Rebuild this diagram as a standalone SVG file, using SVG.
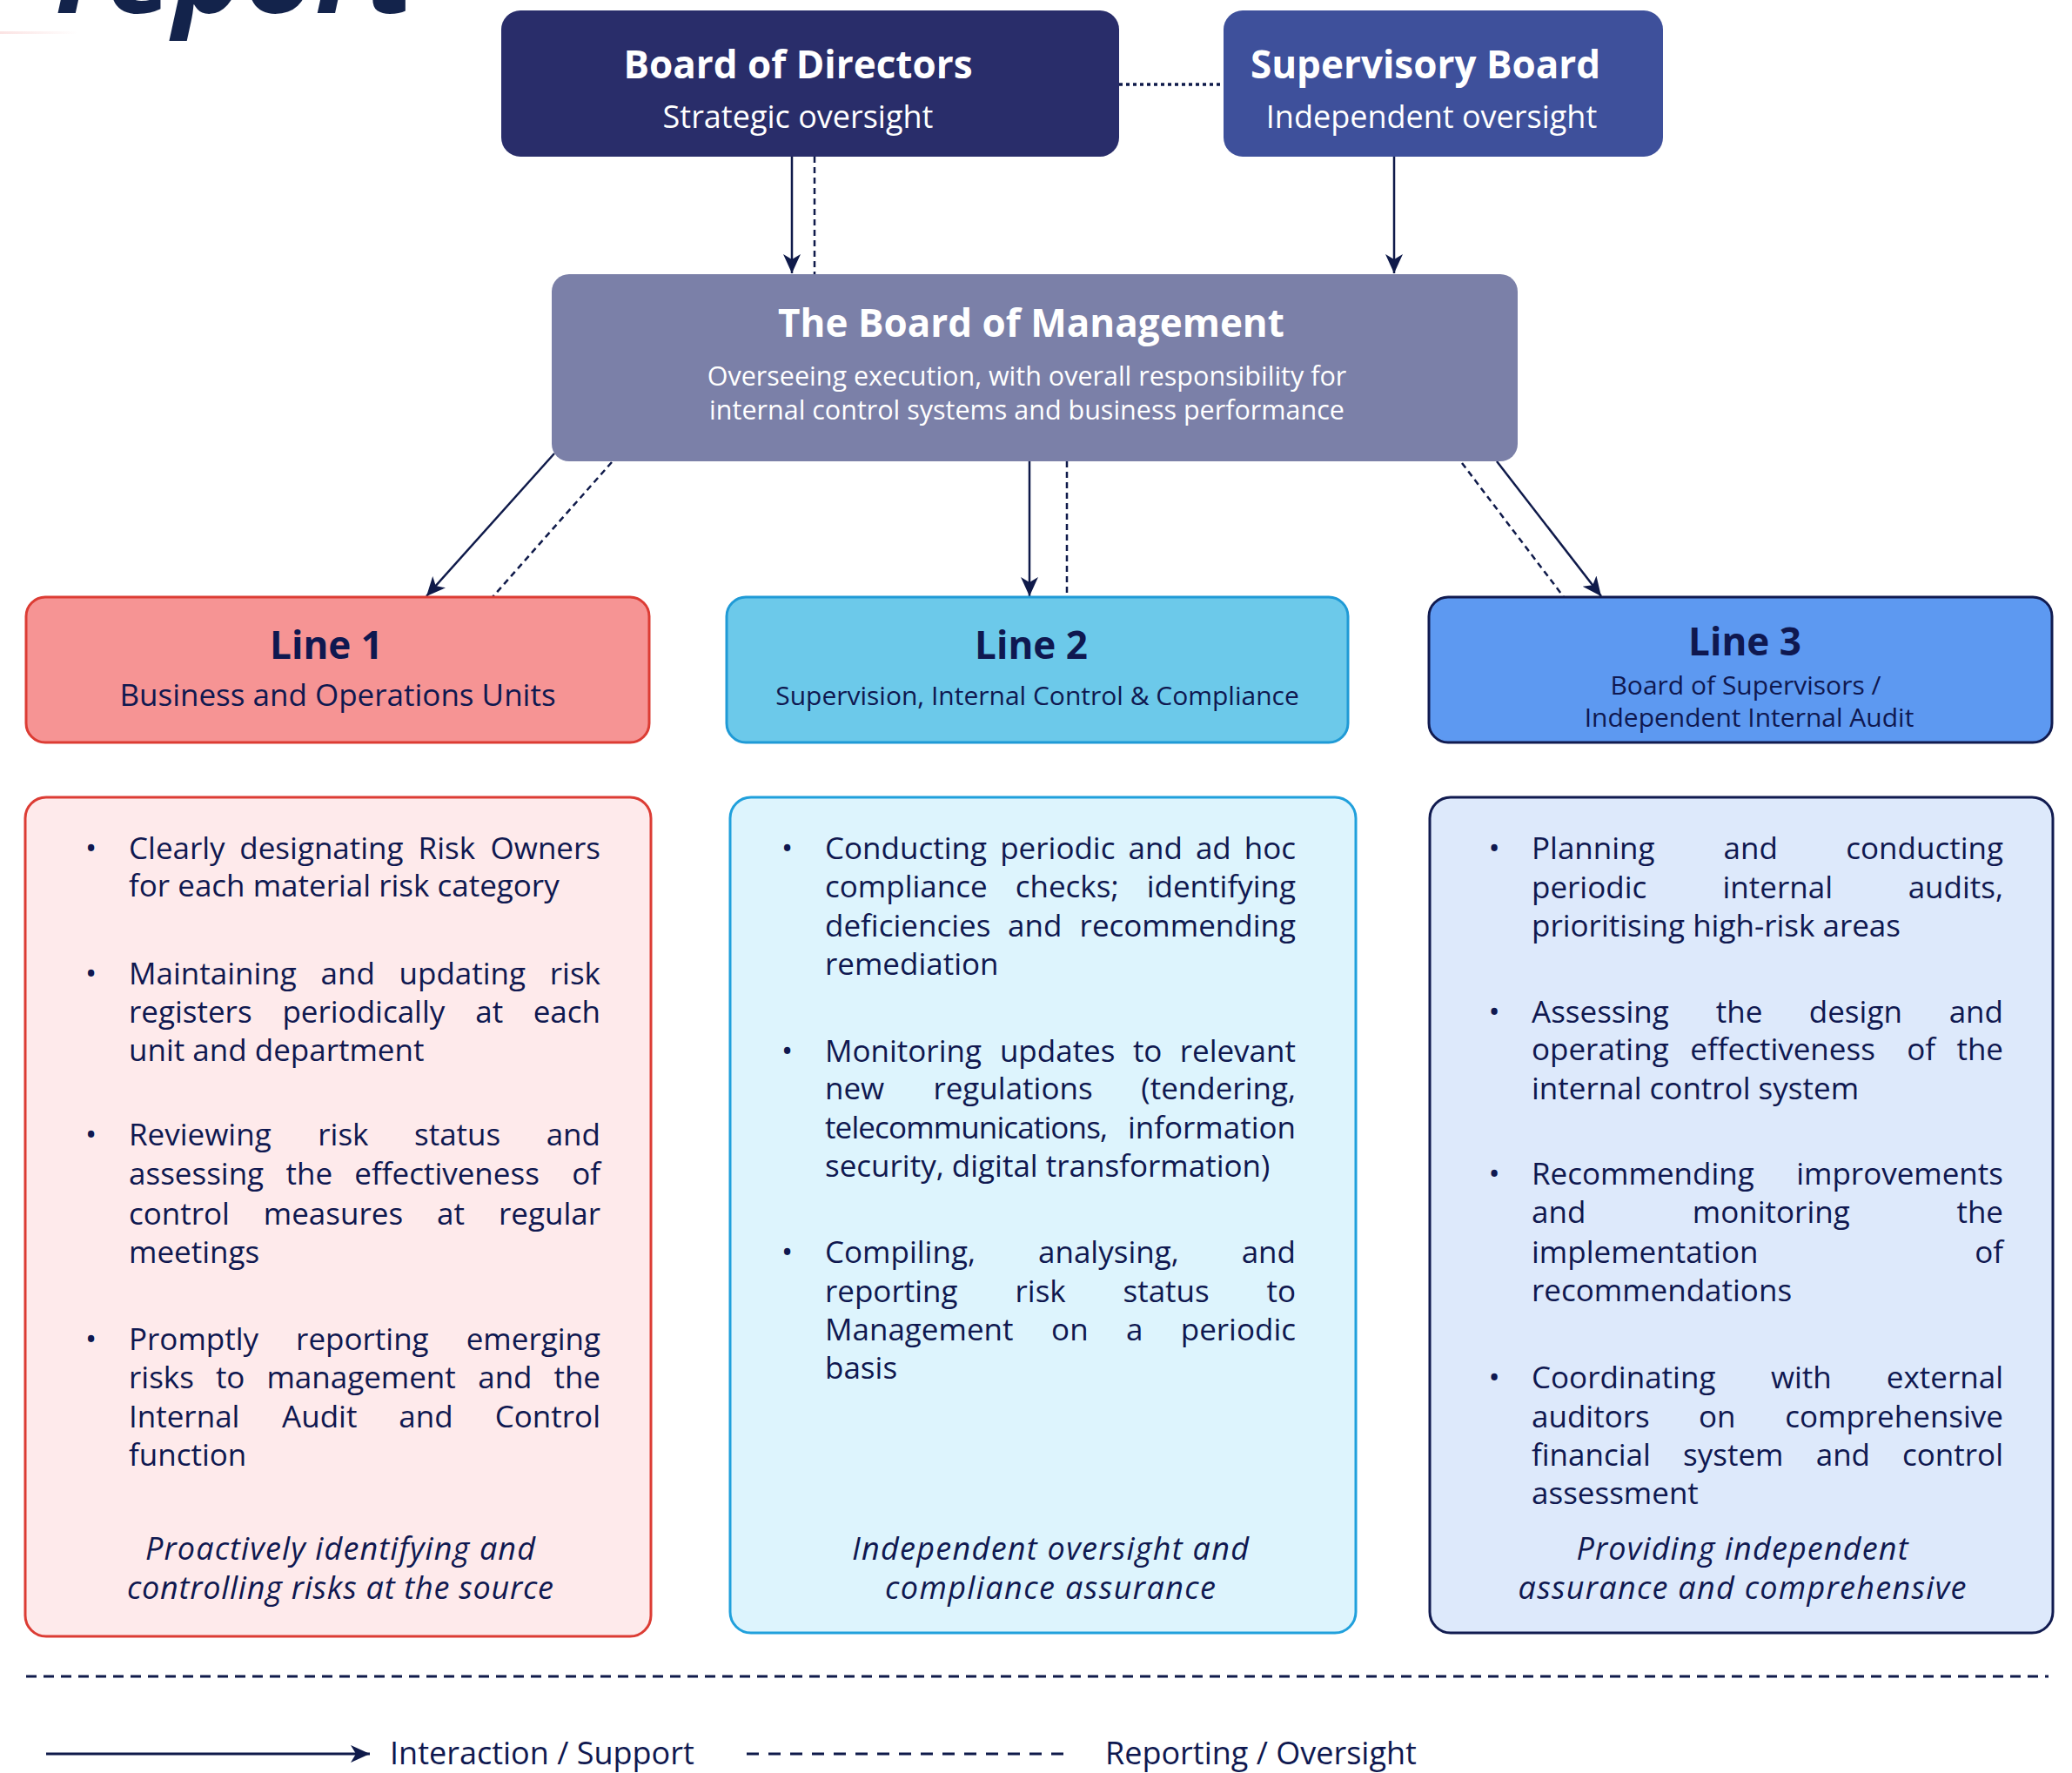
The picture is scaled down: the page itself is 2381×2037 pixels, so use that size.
<svg xmlns="http://www.w3.org/2000/svg" width="2381" height="2037" viewBox="0 0 2381 2037">
<defs>
<style>
text{font-family:"Open Sans","Liberation Sans",sans-serif;}
.h{font-weight:700;font-size:44px;fill:#ffffff;text-anchor:middle}
.s{font-size:36px;fill:#ffffff;text-anchor:middle}
.bs{font-size:30.5px;fill:#ffffff;text-anchor:middle}
.lt{font-weight:700;font-size:44px;fill:#0f1850;text-anchor:middle}
.ls{fill:#0f1850;text-anchor:middle}
.b{font-size:35px;fill:#0f1850}
.bl{font-size:35px;fill:#0f1850;text-anchor:middle}
.e{text-anchor:end}
.it{font-size:36px;font-style:italic;fill:#0f1850;text-anchor:middle}
.lg{font-size:36px;fill:#0f1850}
.sol{stroke:#0f1a4a;stroke-width:2.5;fill:none}
.dsh{stroke:#0f1a4a;stroke-width:2.5;fill:none;stroke-dasharray:7 5}
</style>
<marker id="arr" markerUnits="userSpaceOnUse" markerWidth="24" markerHeight="22" refX="22" refY="10" orient="auto">
<path d="M0,0 L22,10 L0,20 L6,10 Z" fill="#0f1a4a"/>
</marker>
<linearGradient id="fade" x1="0" y1="0" x2="1" y2="0">
<stop offset="0" stop-color="#fbe3e3"/>
<stop offset="1" stop-color="#fbe3e3" stop-opacity="0"/>
</linearGradient>
</defs>
<rect x="0" y="0" width="2381" height="2037" fill="#ffffff"/>

<g id="header-title">
<rect x="0" y="36" width="90" height="3" fill="url(#fade)"/>
<text x="64" y="15" font-size="135" font-weight="700" font-style="italic" fill="#13234b" textLength="413" lengthAdjust="spacingAndGlyphs">report</text>
</g>

<g id="connectors">
<line x1="1286" y1="97" x2="1406" y2="97" stroke="#0f1a4a" stroke-width="3.5" stroke-dasharray="4 4"/>
<line class="sol" x1="910" y1="180" x2="910" y2="314" marker-end="url(#arr)"/>
<line class="dsh" x1="936" y1="180" x2="936" y2="315"/>
<line class="sol" x1="1602" y1="180" x2="1602" y2="314" marker-end="url(#arr)"/>
<line class="sol" x1="637" y1="521" x2="490" y2="685" marker-end="url(#arr)"/>
<line class="dsh" x1="703" y1="531" x2="566" y2="686"/>
<line class="sol" x1="1183" y1="530" x2="1183" y2="685" marker-end="url(#arr)"/>
<line class="dsh" x1="1226" y1="530" x2="1226" y2="682"/>
<line class="sol" x1="1720" y1="530" x2="1840" y2="685" marker-end="url(#arr)"/>
<line class="dsh" x1="1680" y1="532" x2="1797" y2="686"/>
</g>

<g id="board-of-directors">
<rect x="576" y="12" width="710" height="168" rx="22" fill="#292d6a"/>
<text class="h" x="917" y="90">Board of Directors</text>
<text class="s" x="917" y="147">Strategic oversight</text>
</g>

<g id="supervisory-board">
<rect x="1406" y="12" width="505" height="168" rx="22" fill="#3e509b"/>
<text class="h" x="1638" y="90">Supervisory Board</text>
<text class="s" x="1645" y="147">Independent oversight</text>
</g>

<g id="board-of-management">
<rect x="634" y="315" width="1110" height="215" rx="20" fill="#7b80a8"/>
<text class="h" x="1185" y="387">The Board of Management</text>
<text class="bs" x="1180" y="443">Overseeing execution, with overall responsibility for</text>
<text class="bs" x="1180" y="482">internal control systems and business performance</text>
</g>

<g id="line-1">
<rect x="30" y="686" width="716" height="167" rx="22" fill="#f69494" stroke="#dc3c34" stroke-width="3"/>
<text class="lt" x="375" y="757">Line 1</text>
<text class="ls" x="388" y="811" font-size="35">Business and Operations Units</text>
</g>

<g id="line-2">
<rect x="835" y="686" width="714" height="167" rx="22" fill="#6cc9ea" stroke="#1f9ad6" stroke-width="3"/>
<text class="lt" x="1185" y="757">Line 2</text>
<text class="ls" x="1192" y="810" font-size="30">Supervision, Internal Control &amp; Compliance</text>
</g>

<g id="line-3">
<rect x="1642" y="686" width="716" height="167" rx="22" fill="#5d99f1" stroke="#111b50" stroke-width="3"/>
<text class="lt" x="2005" y="753">Line 3</text>
<text class="ls" x="2006" y="798" font-size="30">Board of Supervisors /</text>
<text class="ls" x="2010" y="835" font-size="30">Independent Internal Audit</text>
</g>

<g id="line-1-duties">
<rect x="29" y="916" width="719" height="964" rx="24" fill="#feeaeb" stroke="#dc3c34" stroke-width="3"/>
<text class="bl" x="104.5" y="987">•</text>
<text class="b" y="987"><tspan x="148">Clearly</tspan><tspan x="275.3">designating</tspan><tspan x="480.6">Risk</tspan><tspan x="690" class="e">Owners</tspan></text>
<text class="b" x="148" y="1030">for each material risk category</text>
<text class="bl" x="104.5" y="1131">•</text>
<text class="b" y="1131"><tspan x="148">Maintaining</tspan><tspan x="368.6">and</tspan><tspan x="458.5">updating</tspan><tspan x="690" class="e">risk</tspan></text>
<text class="b" y="1175"><tspan x="148">registers</tspan><tspan x="324.4">periodically</tspan><tspan x="546.3">at</tspan><tspan x="690" class="e">each</tspan></text>
<text class="b" x="148" y="1219">unit and department</text>
<text class="bl" x="104.5" y="1316">•</text>
<text class="b" y="1316"><tspan x="148">Reviewing</tspan><tspan x="365.3">risk</tspan><tspan x="476">status</tspan><tspan x="690" class="e">and</tspan></text>
<text class="b" y="1361"><tspan x="148">assessing</tspan><tspan x="328.6">the</tspan><tspan x="407.3">effectiveness</tspan><tspan x="690" class="e">of</tspan></text>
<text class="b" y="1407"><tspan x="148">control</tspan><tspan x="302.8">measures</tspan><tspan x="502.1">at</tspan><tspan x="690" class="e">regular</tspan></text>
<text class="b" x="148" y="1451">meetings</text>
<text class="bl" x="104.5" y="1551">•</text>
<text class="b" y="1551"><tspan x="148">Promptly</tspan><tspan x="340.1">reporting</tspan><tspan x="690" class="e">emerging</tspan></text>
<text class="b" y="1595"><tspan x="148">risks</tspan><tspan x="247.9">to</tspan><tspan x="306.4">management</tspan><tspan x="549.2">and</tspan><tspan x="690" class="e">the</tspan></text>
<text class="b" y="1640"><tspan x="148">Internal</tspan><tspan x="324.1">Audit</tspan><tspan x="458.3">and</tspan><tspan x="690" class="e">Control</tspan></text>
<text class="b" x="148" y="1684">function</text>
<text class="it" x="391" y="1792" textLength="448" lengthAdjust="spacing">Proactively identifying and</text>
<text class="it" x="391" y="1837" textLength="490" lengthAdjust="spacing">controlling risks at the source</text>
</g>

<g id="line-2-duties">
<rect x="839" y="916" width="719" height="960" rx="24" fill="#ddf4fd" stroke="#20a0dc" stroke-width="3"/>
<text class="bl" x="904.6" y="987">•</text>
<text class="b" y="987"><tspan x="948">Conducting</tspan><tspan x="1149.2">periodic</tspan><tspan x="1296.5">and</tspan><tspan x="1373.9">ad</tspan><tspan x="1489" class="e">hoc</tspan></text>
<text class="b" y="1031"><tspan x="948">compliance</tspan><tspan x="1166.7">checks;</tspan><tspan x="1489" class="e">identifying</tspan></text>
<text class="b" y="1076"><tspan x="948">deficiencies</tspan><tspan x="1158">and</tspan><tspan x="1489" class="e">recommending</tspan></text>
<text class="b" x="948" y="1120">remediation</text>
<text class="bl" x="904.6" y="1220">•</text>
<text class="b" y="1220"><tspan x="948">Monitoring</tspan><tspan x="1148.9">updates</tspan><tspan x="1301.9">to</tspan><tspan x="1489" class="e">relevant</tspan></text>
<text class="b" y="1263"><tspan x="948">new</tspan><tspan x="1072.4">regulations</tspan><tspan x="1489" class="e">(tendering,</tspan></text>
<text class="b" x="948" y="1308" textLength="325" lengthAdjust="spacing">telecommunications,</text>
<text class="b e" x="1489" y="1308">information</text>
<text class="b" x="948" y="1352">security, digital transformation)</text>
<text class="bl" x="904.6" y="1451">•</text>
<text class="b" y="1451"><tspan x="948">Compiling,</tspan><tspan x="1193">analysing,</tspan><tspan x="1489" class="e">and</tspan></text>
<text class="b" y="1496"><tspan x="948">reporting</tspan><tspan x="1166.5">risk</tspan><tspan x="1290.5">status</tspan><tspan x="1489" class="e">to</tspan></text>
<text class="b" y="1540"><tspan x="948">Management</tspan><tspan x="1208.1">on</tspan><tspan x="1293.9">a</tspan><tspan x="1489" class="e">periodic</tspan></text>
<text class="b" x="948" y="1584">basis</text>
<text class="it" x="1207" y="1792" textLength="456" lengthAdjust="spacing">Independent oversight and</text>
<text class="it" x="1207" y="1837" textLength="380" lengthAdjust="spacing">compliance assurance</text>
</g>

<g id="line-3-duties">
<rect x="1643" y="916" width="716" height="960" rx="24" fill="#dde9fb" stroke="#111b50" stroke-width="3"/>
<text class="bl" x="1717" y="987">•</text>
<text class="b" y="987"><tspan x="1760">Planning</tspan><tspan x="1980.6">and</tspan><tspan x="2302" class="e">conducting</tspan></text>
<text class="b" y="1032"><tspan x="1760">periodic</tspan><tspan x="1979.5">internal</tspan><tspan x="2302" class="e">audits,</tspan></text>
<text class="b" x="1760" y="1076">prioritising high-risk areas</text>
<text class="bl" x="1717" y="1175">•</text>
<text class="b" y="1175"><tspan x="1760">Assessing</tspan><tspan x="1971.7">the</tspan><tspan x="2078.8">design</tspan><tspan x="2302" class="e">and</tspan></text>
<text class="b" y="1218"><tspan x="1760">operating</tspan><tspan x="1942.3">effectiveness</tspan><tspan x="2191.2">of</tspan><tspan x="2302" class="e">the</tspan></text>
<text class="b" x="1760" y="1263">internal control system</text>
<text class="bl" x="1717" y="1361">•</text>
<text class="b" y="1361"><tspan x="1760">Recommending</tspan><tspan x="2302" class="e">improvements</tspan></text>
<text class="b" y="1405"><tspan x="1760">and</tspan><tspan x="1944.8">monitoring</tspan><tspan x="2302" class="e">the</tspan></text>
<text class="b" y="1451"><tspan x="1760">implementation</tspan><tspan x="2302" class="e">of</tspan></text>
<text class="b" x="1760" y="1495">recommendations</text>
<text class="bl" x="1717" y="1595">•</text>
<text class="b" y="1595"><tspan x="1760">Coordinating</tspan><tspan x="2034.9">with</tspan><tspan x="2302" class="e">external</tspan></text>
<text class="b" y="1640"><tspan x="1760">auditors</tspan><tspan x="1952">on</tspan><tspan x="2302" class="e">comprehensive</tspan></text>
<text class="b" y="1684"><tspan x="1760">financial</tspan><tspan x="1934.1">system</tspan><tspan x="2086.7">and</tspan><tspan x="2302" class="e">control</tspan></text>
<text class="b" x="1760" y="1728">assessment</text>
<text class="it" x="2002" y="1792" textLength="381" lengthAdjust="spacing">Providing independent</text>
<text class="it" x="2002" y="1837" textLength="515" lengthAdjust="spacing">assurance and comprehensive</text>
</g>

<g id="legend">
<line x1="30" y1="1926" x2="2354" y2="1926" stroke="#0f1a4a" stroke-width="3" stroke-dasharray="12 8"/>
<line x1="53" y1="2015" x2="425" y2="2015" stroke="#0f1a4a" stroke-width="3" marker-end="url(#arr)"/>
<text class="lg" x="448" y="2027">Interaction / Support</text>
<line x1="858" y1="2015" x2="1227" y2="2015" stroke="#0f1a4a" stroke-width="3" stroke-dasharray="14 11"/>
<text class="lg" x="1270" y="2027">Reporting / Oversight</text>
</g>
</svg>
